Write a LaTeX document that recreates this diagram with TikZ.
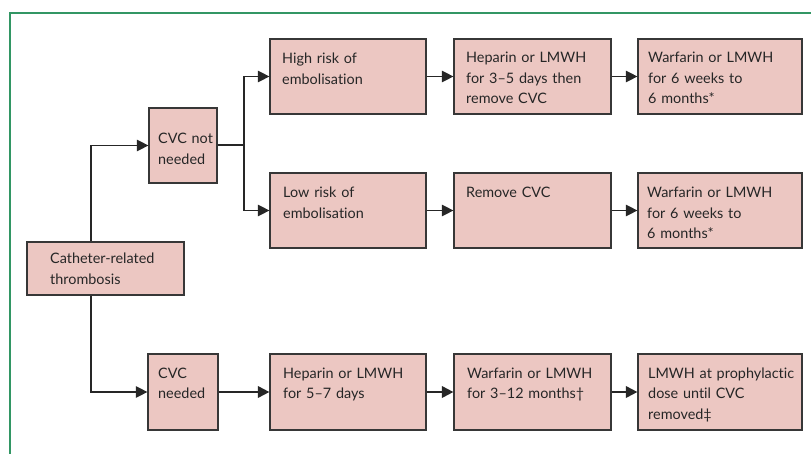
\documentclass[tikz,border=0pt]{standalone}
\usepackage{fontspec}
\setmainfont{Lato}[Ligatures=NoCommon, WordSpace=0.75]
\usetikzlibrary{arrows.meta,calc}
\definecolor{boxfill}{RGB}{236,199,194}
\definecolor{boxline}{RGB}{55,55,55}
\definecolor{framegreen}{RGB}{50,150,100}
\begin{document}
\begin{tikzpicture}[x=1pt,y=-1pt,
  box/.style={draw=boxline, fill=boxfill, line width=1.2pt, inner sep=0pt},
  txt/.style={anchor=base west, inner sep=0pt, align=left, text width=160pt,
    text=black!85, font=\fontsize{14.4}{20.5}\selectfont},
  conn/.style={draw=black!85, line width=1.2pt, -{Triangle[length=11.5pt,width=11.5pt]}},
  thickconn/.style={conn, line width=2pt},
  thickline/.style={draw=black!85, line width=2pt}]
\useasboundingbox (0,0) rectangle (811,454);
\draw[framegreen, line width=1.2pt] (10,454) -- (10,13) -- (811,13);

% boxes
\node[box, minimum width=157pt, minimum height=53pt] (cat) at (105.5,268.5) {};
\node[box, minimum width=68pt, minimum height=75pt] (cvcnn) at (183,145.5) {};
\node[box, minimum width=156pt, minimum height=75pt] (high) at (348,76.5) {};
\node[box, minimum width=157pt, minimum height=75pt] (hep35) at (532.5,76.5) {};
\node[box, minimum width=164pt, minimum height=75pt] (war1) at (720,76.5) {};
\node[box, minimum width=156pt, minimum height=75pt] (low) at (348,210.5) {};
\node[box, minimum width=157pt, minimum height=75pt] (rem) at (532.5,210.5) {};
\node[box, minimum width=164pt, minimum height=75pt] (war2) at (720,210.5) {};
\node[box, minimum width=70pt, minimum height=76pt] (cvcn) at (183,392) {};
\node[box, minimum width=156pt, minimum height=76pt] (hep57) at (348,392) {};
\node[box, minimum width=157pt, minimum height=76pt] (war312) at (532.5,392) {};
\node[box, minimum width=164pt, minimum height=76pt] (lmwh) at (720,392) {};

% texts
\node[txt] (cat-t) at (50,264) {Catheter-related\\thrombosis};
\node[txt] (cvcnn-t) at (158,144) {CVC not\\needed};
\node[txt] (high-t) at (282,64) {High risk of\\embolisation};
\node[txt] (hep35-t) at (466,63) {Heparin or LMWH\\for 3–5 days then\\remove CVC};
\node[txt] (war1-t) at (648,63) {Warfarin or LMWH\\for 6 weeks to\\6 months*};
\node[txt] (low-t) at (283,198) {Low risk of\\embolisation};
\node[txt] (rem-t) at (466,198) {Remove CVC};
\node[txt] (war2-t) at (647,198) {Warfarin or LMWH\\for 6 weeks to\\6 months*};
\node[txt] (cvcn-t) at (158,378) {CVC\\needed};
\node[txt] (hep57-t) at (283,378) {Heparin or LMWH\\for 5–7 days};
\node[txt] (war312-t) at (467,378) {Warfarin or LMWH\\for 3–12 months†};
\node[txt] (lmwh-t) at (648,378) {LMWH at prophylactic\\dose until CVC\\removed‡};

% connectors
\coordinate (cx) at (91,0);
\coordinate (j) at (244,145.5);
\draw[conn] (cat.north -| cx) |- (cvcnn.west);
\draw[conn] (cat.south -| cx) |- (cvcn.west);
\draw[thickline] (cvcnn.east) -- (j);
\draw[conn] (j) |- (high.west);
\draw[conn] (j) |- (low.west);
\draw[conn] (high) -- (hep35);
\draw[conn] (hep35) -- (war1);
\draw[conn] (low) -- (rem);
\draw[conn] (rem) -- (war2);
\draw[thickconn] (cvcn) -- (hep57);
\draw[thickconn] (hep57) -- (war312);
\draw[thickconn] (war312) -- (lmwh);
\end{tikzpicture}
\end{document}
